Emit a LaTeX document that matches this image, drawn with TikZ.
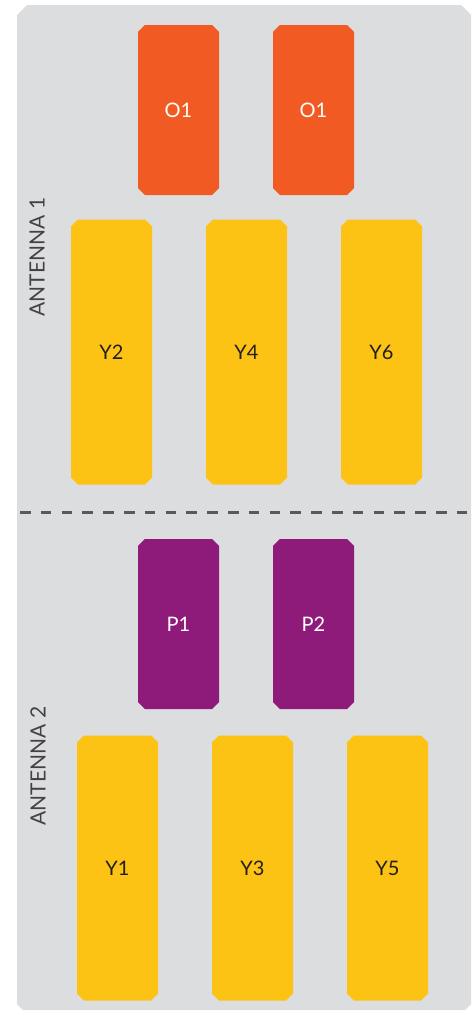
\documentclass[tikz,border=0pt]{standalone}
\usepackage{fontspec}
\setmainfont{Lato}
\usetikzlibrary{shapes.misc}
\definecolor{panel}{HTML}{DCDDDF}
\definecolor{ored}{HTML}{F15A22}
\definecolor{ylw}{HTML}{FDC314}
\definecolor{prp}{HTML}{8E1A7A}
\definecolor{ink}{HTML}{231F20}
\definecolor{rule}{HTML}{58595B}
\tikzset{
  cell/.style={chamfered rectangle, chamfered rectangle xsep=3.6pt,
    chamfered rectangle angle=45, inner sep=0pt, draw=none,
    minimum width=81pt, font=\fontsize{20}{23}\selectfont},
  tallcell/.style={cell, minimum height=265pt, fill=ylw, text=ink},
  shortcell/.style={cell, minimum height=170pt, text=white},
  antlabel/.style={rotate=90, text=ink!85, font=\fontsize{21}{24}\selectfont, inner sep=0pt},
}
\begin{document}
\begin{tikzpicture}[x=1pt,y=-1pt]
\useasboundingbox (0,0) rectangle (476,1012);
% panel with cut corners
\fill[panel] (27,5) -- (461,5) -- (471,15) -- (471,1004) -- (465,1010)
  -- (23,1010) -- (17,1004) -- (17,15) -- cycle;
% antenna 1
\node[shortcell, fill=ored] (o1a) at (178.5,110) {O1};
\node[shortcell, fill=ored] (o1b) at (313.5,110) {O1};
\node[tallcell] (y2) at (111.5,352) {Y2};
\node[tallcell] (y4) at (246.5,352) {Y4};
\node[tallcell] (y6) at (381.5,352) {Y6};
\node[antlabel] (ant1) at (37,257) {ANTENNA 1};
% separator
\coordinate (sepL) at (20,512);
\coordinate (sepR) at (471,512);
\draw[rule, line width=3pt, dash pattern=on 10.5pt off 10.3pt] (sepL) -- (sepR);
% antenna 2
\node[shortcell, fill=prp] (p1) at (178.5,624) {P1};
\node[shortcell, fill=prp] (p2) at (313.5,624) {P2};
\node[tallcell] (y1) at (117.5,868) {Y1};
\node[tallcell] (y3) at (252.5,868) {Y3};
\node[tallcell] (y5) at (387.5,868) {Y5};
\node[antlabel] (ant2) at (38,766) {ANTENNA 2};
\end{tikzpicture}
\end{document}
